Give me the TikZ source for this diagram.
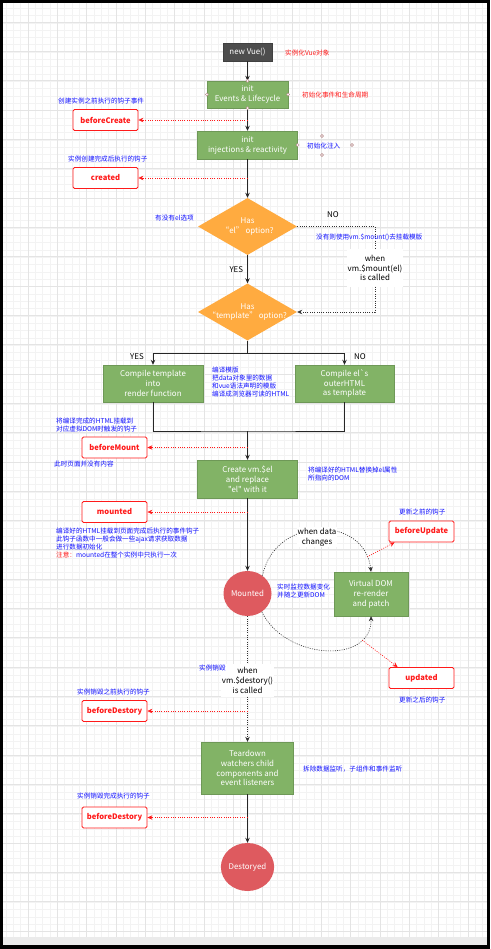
\documentclass[tikz,border=0pt]{standalone}
\usepackage{fontspec}
\setmainfont{Noto Sans CJK SC}[Ligatures=TeXOff]
\usetikzlibrary{shapes.geometric,arrows.meta}
\definecolor{vuegreen}{HTML}{82B366}
\definecolor{vueorange}{HTML}{FFAB40}
\definecolor{vuered}{HTML}{DE5A5F}
\definecolor{vuedark}{HTML}{4D4D4D}
\definecolor{hookred}{HTML}{FF1A1A}
\definecolor{noteblue}{HTML}{1010FF}
\definecolor{gridminor}{HTML}{F3F3F3}
\definecolor{gridmajor}{HTML}{E4E4E4}

\begin{document}
\begin{tikzpicture}[x=1pt,y=-1pt,
  boxtext/.style={font=\fontsize{7.9}{9.9}\selectfont, text=white, align=center},
  greenbox/.style={boxtext, fill=vuegreen, draw=vuegreen!85!black, line width=0.4pt, inner sep=0pt},
  darkbox/.style={boxtext, fill=vuedark, draw=black!75, line width=0.4pt, inner sep=0pt},
  decision/.style={diamond, fill=vueorange, inner sep=0pt, minimum width=99pt, minimum height=57pt},
  stage/.style={boxtext, ellipse, fill=vuered, inner sep=0pt},
  hookbox/.style={draw=hookred, fill=white, rounded corners=1.5pt, line width=0.8pt, text=hookred, font=\bfseries\fontsize{7.6}{9}\selectfont, minimum width=65pt, minimum height=21pt, inner sep=0pt},
  note/.style={anchor=west, inner sep=0pt, align=left, text=noteblue, font=\fontsize{6.6}{8}\selectfont},
  rednote/.style={note, text=hookred},
  plain/.style={font=\fontsize{7.9}{9.9}\selectfont, align=center, inner sep=1pt},
  event/.style={plain, fill=white},
  tip/.style={-{Stealth[length=5pt,width=4.5pt]}},
  wire/.style={draw=black!85, line width=0.8pt},
  flow/.style={wire, tip},
  wait/.style={draw=black!80, line width=0.6pt, dash pattern=on 1pt off 1.3pt},
  hook/.style={draw=hookred, line width=0.6pt, dash pattern=on 1pt off 1.3pt, tip},
  port/.style={circle, draw=red!40!black!50, fill=white, line width=0.4pt, inner sep=0pt, minimum size=3pt},
  gridline/.style={draw=gridminor, line width=0.5pt},
  gridbold/.style={draw=gridmajor, line width=0.5pt}
]
\useasboundingbox (0,0) rectangle (490,949);
\fill[black] (0,0) rectangle (490,949);
\fill[white] (3,3) rectangle (487,937);
\fill[black!8] (3,937) rectangle (487,945);
\foreach \gx in {6,13.33,...,487} \draw[gridline] (\gx,3) -- (\gx,937);
\foreach \gy in {8.1,15.43,...,937} \draw[gridline] (3,\gy) -- (487,\gy);
\foreach \gx in {28,57.33,...,487} \draw[gridbold] (\gx,3) -- (\gx,937);
\foreach \gy in {21.8,51.13,...,937} \draw[gridbold] (3,\gy) -- (487,\gy);

\node[darkbox, minimum width=49pt, minimum height=18pt] (vue) at (247.5,52) {new Vue()};
\node[greenbox, minimum width=81pt, minimum height=27pt] (evt) at (247.5,94.5) {init\\Events \& Lifecycle};
\node[greenbox, minimum width=100pt, minimum height=28pt] (inj) at (247.5,145) {init\\injections \& reactivity};
\node[decision, label={[boxtext]center:Has\\“el” option?}] (hasel) at (247.5,226.5) {};
\node[decision, label={[boxtext]center:Has\\“template” option?}] (hastpl) at (247.5,312) {};
\node[event, minimum width=56pt, minimum height=37pt] (mnt) at (375,268) {when\\vm.\$mount(el)\\is called};
\node[greenbox, minimum width=100pt, minimum height=37pt] (ctpl) at (153,383.5) {Compile template\\into\\render function};
\node[greenbox, minimum width=99pt, minimum height=37pt] (cel) at (344.5,383.5) {Compile el`s\\outerHTML\\as template};
\node[greenbox, minimum width=100pt, minimum height=38pt] (create) at (247.5,479) {Create vm.\$el\\and replace\\"el" with it};
\node[stage, minimum width=48pt, minimum height=45pt] (mounted) at (247.5,593.5) {Mounted};
\node[greenbox, minimum width=74pt, minimum height=44pt] (vdom) at (371,594) {Virtual DOM\\re-render\\and patch};
\node[event, minimum width=53pt, minimum height=33pt] (des) at (247.5,680) {when\\vm.\$destory()\\is called};
\node[greenbox, minimum width=92pt, minimum height=52pt] (tear) at (247.5,768) {Teardown\\watchers child\\components and\\event listeners};
\node[stage, minimum width=49pt, minimum height=48pt] (destroyed) at (247.5,867) {Destoryed};

\node[hookbox] (bc) at (105.5,120) {beforeCreate};
\node[hookbox] (cr) at (105.5,178) {created};
\node[hookbox] (bm) at (114.5,447.5) {beforeMount};
\node[hookbox] (md) at (114.5,512) {mounted};
\node[hookbox] (bu) at (421.5,531.5) {beforeUpdate};
\node[hookbox] (ud) at (421.5,678) {updated};
\node[hookbox] (bd) at (114.5,711) {beforeDestory};
\node[hookbox] (dd) at (114.5,817.5) {beforeDestory};

\draw[flow] (vue) -- (evt);
\draw[flow] (evt) -- (inj);
\draw[flow] (inj) -- (hasel);
\draw[flow] (hasel) -- node[plain, anchor=east, xshift=-3pt] (yes1) {YES} (hastpl);
\draw[wait] (hasel.east) -| (mnt.north);
\draw[wait, tip] (mnt.south) |- (hastpl.east);
\node[plain] (no1) at (333,215) {NO};
\draw[flow] (hastpl.south) -- ++(0,13) -| (ctpl.north);
\draw[flow] (hastpl.south) -- ++(0,13) -| (cel.north);
\node[plain] (yes2) at (137,357) {YES};
\node[plain] (no2) at (360,357) {NO};
\coordinate (join) at (247.5,431);
\draw[wire] (ctpl.south) |- (join) -| (cel.south);
\draw[flow] (join) -- (create);
\draw[flow] (create) -- (mounted);
\draw[wait] (mounted) -- (des);
\draw[wait, tip] (des) -- (tear);
\draw[flow] (tear) -- (destroyed);

\draw[wait, tip] (mounted.50) .. controls (275,515) and (365,515) .. (vdom.north);
\draw[wait, tip] (mounted.-52) .. controls (285,660) and (372,665) .. (vdom.south);
\node[event] (chg) at (317,537) {when data\\changes};
\coordinate (upd1) at (367,557);
\coordinate (upd2) at (362,640);
\draw[hook] (upd1) -- ([xshift=6pt]bu.south west);
\draw[hook] (upd2) -- ([xshift=9pt]ud.north west);

\draw[hook] (evt |- bc) -- (bc);
\draw[hook] (inj |- cr) -- (cr);
\draw[hook] (create |- bm) -- (bm);
\draw[hook] (create |- md) -- (md);
\draw[hook] (des |- bd) -- (bd);
\draw[hook] (tear |- dd) -- (dd);

\node[port] (pt1) at (evt.north) {};
\node[port] (pt2) at (evt.south) {};
\node[port] (pt3) at (evt.west) {};
\node[port] (pt4) at (evt.east) {};
\node[port] (pt5) at (inj.east) {};
\node[port] (pt6) at (322,136) {};
\node[port] (pt7) at (322,155) {};
\node[port] (pt8) at (352,145) {};

\node[rednote] (n1) at (285,53) {实例化Vue对象};
\node[rednote] (n2) at (302,95) {初始化事件和生命周期};
\node[note] (n3) at (58,101) {创建实例之前执行的钩子事件};
\node[note] (n4) at (307,146) {初始化注入};
\node[note] (n5) at (68,159) {实例创建完成后执行的钩子};
\node[note] (n6) at (155,218) {有没有el选项};
\node[note] (n7) at (316,237) {没有则使用vm.\$mount()去挂载模版};
\node[note] (n8) at (212,382) {编译模版\\把data对象里的数据\\和vue语法声明的模版\\编译成浏览器可读的HTML};
\node[note] (n9) at (56,425) {将编译完成的HTML挂载到\\对应虚拟DOM时触发的钩子};
\node[note] (n10) at (54,464) {此时页面并没有内容};
\node[note] (n11) at (308,474) {将编译好的HTML替换掉el属性\\所指向的DOM};
\node[note] (n12) at (56,543) {编译好的HTML挂载到页面完成后执行的事件钩子\\此钩子函数中一般会做一些ajax请求获取数据\\进行数据初始化\\{\color{hookred}注意：}mounted在整个实例中只执行一次};
\node[note] (n13) at (399,512) {更新之前的钩子};
\node[note] (n14) at (277,591) {实时监控数据变化\\并随之更新DOM};
\node[note] (n15) at (199,668) {实例销毁};
\node[note] (n16) at (399,700) {更新之后的钩子};
\node[note] (n17) at (77,692) {实例销毁之前执行的钩子};
\node[note] (n18) at (303,769) {拆除数据监听，子组件和事件监听};
\node[note] (n19) at (77,796) {实例销毁完成执行的钩子};
\end{tikzpicture}
\end{document}
